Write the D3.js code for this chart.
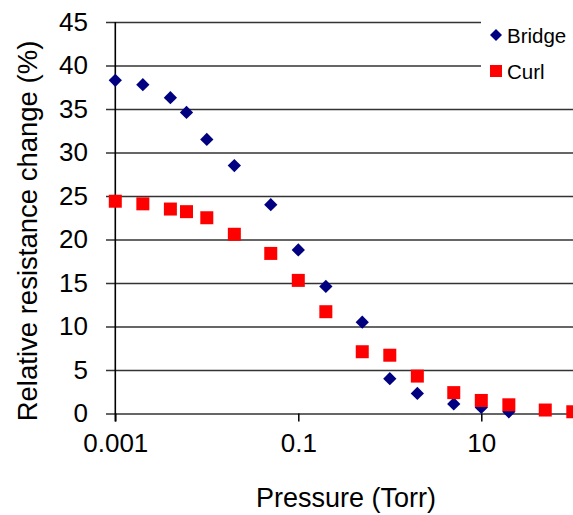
<!DOCTYPE html>
<html>
<head>
<meta charset="utf-8">
<script src="https://cdn.jsdelivr.net/npm/d3@7"></script>
<style>
  body { margin: 0; background: #fff; }
  svg { display: block; font-family: "Liberation Sans", Arial, sans-serif; }
</style>
</head>
<body>
<div id="chart"></div>
<script>
// pressure values (Torr)
const pressureBridge = [0.001, 0.002, 0.004, 0.006, 0.01, 0.02, 0.05, 0.1, 0.2, 0.5, 1, 2, 5, 10, 20];
const bridgeValues = [38.3, 37.8, 36.3, 34.6, 31.5, 28.5, 24.0, 18.8, 14.6, 10.5, 4.0, 2.3, 1.1, 0.7, 0.2];

const pressureCurl = [0.001, 0.002, 0.004, 0.006, 0.01, 0.02, 0.05, 0.1, 0.2, 0.5, 1, 2, 5, 10, 20, 50, 100];
const curlValues = [24.4, 24.1, 23.5, 23.2, 22.5, 20.6, 18.4, 15.3, 11.7, 7.1, 6.7, 4.3, 2.4, 1.5, 1.0, 0.4, 0.2];

const yTicks = [0, 5, 10, 15, 20, 25, 30, 35, 40, 45];
const xTicks = [0.001, 0.1, 10];
const xTickLabels = ["0.001", "0.1", "10"];

const width = 573;
const height = 515;

const x = d3.scaleLog().domain([0.001, 100]).range([115.3, 572.8]);
const y = d3.scaleLinear().domain([0, 45]).range([413.5, 22]);

const svg = d3.select("#chart")
    .append("svg")
    .attr("width", width)
    .attr("height", height);

// horizontal gridlines + y ticks
const yAxis = d3.axisLeft(y)
    .tickValues(yTicks)
    .tickSize(-(width - 106))
    .tickPadding(18)
    .tickSizeOuter(0);

const gy = svg.append("g")
    .attr("transform", `translate(106,0)`)
    .call(yAxis);
gy.select(".domain").remove();
gy.selectAll(".tick line")
    .attr("stroke", "#333")
    .attr("stroke-width", 1.6);
gy.selectAll(".tick text")
    .attr("x", -18)
    .attr("font-size", 26)
    .attr("fill", "#000");

// x axis ticks (every two decades)
const xAxis = d3.axisBottom(x)
    .tickValues(xTicks)
    .tickFormat((d, i) => xTickLabels[i])
    .tickSize(8)
    .tickPadding(12)
    .tickSizeOuter(0);

const gx = svg.append("g")
    .attr("transform", `translate(0,${y(0)})`)
    .call(xAxis);
gx.select(".domain").remove();
gx.selectAll(".tick line").attr("stroke", "#000").attr("stroke-width", 1.5);
gx.selectAll(".tick text")
    .attr("font-size", 26)
    .attr("fill", "#000");

// y axis line
svg.append("line")
    .attr("x1", x(0.001)).attr("x2", x(0.001))
    .attr("y1", y(45)).attr("y2", y(0) + 8)
    .attr("stroke", "#000")
    .attr("stroke-width", 1.6);

// axis titles
svg.append("text")
    .attr("x", 346)
    .attr("y", 507)
    .attr("text-anchor", "middle")
    .attr("font-size", 27)
    .attr("fill", "#000")
    .text("Pressure (Torr)");

svg.append("text")
    .attr("transform", "translate(37,231) rotate(-90)")
    .attr("text-anchor", "middle")
    .attr("font-size", 27.5)
    .attr("fill", "#000")
    .text("Relative resistance change (%)");

// data
const diamond = d3.symbol().type(d3.symbolSquare).size(88);
const square = d3.symbol().type(d3.symbolSquare).size(169);

svg.append("g")
    .selectAll("path")
    .data(pressureBridge.map((p, i) => [p, bridgeValues[i]]))
    .enter()
    .append("path")
    .attr("d", diamond)
    .attr("transform", (d) => `translate(${x(d[0])},${y(d[1])}) rotate(45)`)
    .attr("fill", "#000080");

svg.append("g")
    .selectAll("path")
    .data(pressureCurl.map((p, i) => [p, curlValues[i]]))
    .enter()
    .append("path")
    .attr("d", square)
    .attr("transform", (d) => `translate(${x(d[0])},${y(d[1])})`)
    .attr("fill", "#ff0000");

// legend
const legend = svg.append("g");
legend.append("rect")
    .attr("x", 481).attr("y", 10)
    .attr("width", 100).attr("height", 82)
    .attr("fill", "#fff");

const legendItems = [
    { name: "Bridge", color: "#000080", sym: d3.symbol().type(d3.symbolSquare).size(72), rot: 45, cy: 35 },
    { name: "Curl", color: "#ff0000", sym: d3.symbol().type(d3.symbolSquare).size(144), rot: 0, cy: 71 },
];

legendItems.forEach((item) => {
    legend.append("path")
        .attr("d", item.sym)
        .attr("transform", `translate(496,${item.cy}) rotate(${item.rot})`)
        .attr("fill", item.color);
    legend.append("text")
        .attr("x", 507)
        .attr("y", item.cy + 8)
        .attr("font-size", 20.5)
        .attr("fill", "#000")
        .text(item.name);
});
</script>
</body>
</html>
